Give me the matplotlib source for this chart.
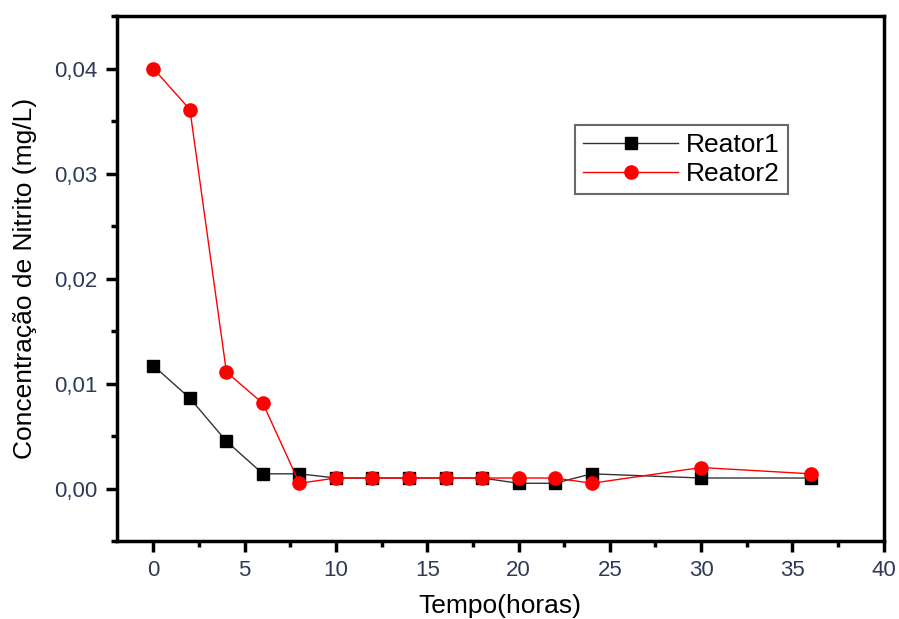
import matplotlib.pyplot as plt
from matplotlib.ticker import MultipleLocator, FuncFormatter

plt.rcParams["font.family"] = ["Liberation Sans", "DejaVu Sans"]

tempo = [0, 2, 4, 6, 8, 10, 12, 14, 16, 18, 20, 22, 24, 30, 36]
reator1 = [0.0117, 0.0086, 0.0045, 0.0014, 0.0014, 0.0010, 0.0010, 0.0010,
           0.0010, 0.0010, 0.0005, 0.0005, 0.0014, 0.0010, 0.0010]
reator2 = [0.0400, 0.0361, 0.0111, 0.0081, 0.0005, 0.0010, 0.0010, 0.0010,
           0.0010, 0.0010, 0.0010, 0.0010, 0.0005, 0.0020, 0.0014]

TICK_COLOR = "#2e3a55"

fig = plt.figure(figsize=(8.99, 6.19), dpi=100)
ax = fig.add_axes([0.130, 0.126, 0.853, 0.848])

ax.plot(tempo, reator1, color="#333333", lw=1.0, marker="s", ms=9,
        mfc="black", mec="black", label="Reator1", zorder=3)
ax.plot(tempo, reator2, color="red", lw=1.0, marker="o", ms=9.5,
        mfc="red", mec="red", label="Reator2", zorder=3)

ax.set_xlim(-2, 40)
ax.set_ylim(-0.005, 0.045)
ax.xaxis.set_major_locator(MultipleLocator(5))
ax.xaxis.set_minor_locator(MultipleLocator(2.5))
ax.yaxis.set_major_locator(MultipleLocator(0.01))
ax.yaxis.set_minor_locator(MultipleLocator(0.005))
ax.yaxis.set_major_formatter(FuncFormatter(lambda v, p: f"{v:.2f}".replace(".", ",")))

for side in ["left", "bottom", "right", "top"]:
    ax.spines[side].set_linewidth(2.5)
ax.tick_params(which="major", direction="out", length=8, width=2.5,
               labelsize=16, labelcolor=TICK_COLOR, pad=6)
ax.tick_params(which="minor", direction="out", length=4, width=2.5)
ax.tick_params(top=False, right=False, which="both")

ax.set_xlabel("Tempo(horas)", fontsize=19, labelpad=9)
ax.set_ylabel("Concentração de Nitrito (mg/L)", fontsize=19, labelpad=12)

leg = ax.legend(loc="upper left", bbox_to_anchor=(0.598, 0.792), fontsize=19,
                frameon=True, fancybox=False, edgecolor="#444444",
                handlelength=3.6, handletextpad=0.3, borderpad=0.3,
                labelspacing=0.2, borderaxespad=0)
leg.get_frame().set_linewidth(1.5)

fig.savefig("out.png", dpi=100)
